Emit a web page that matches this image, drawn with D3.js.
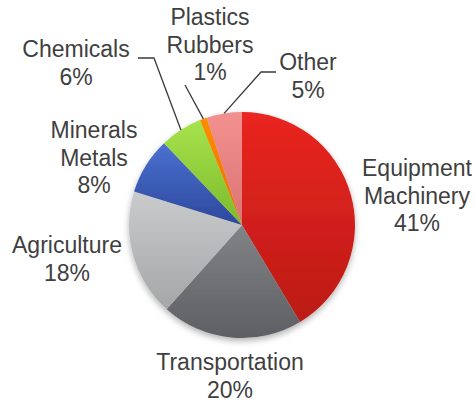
<!DOCTYPE html>
<html>
<head>
<meta charset="utf-8">
<script src="https://cdn.jsdelivr.net/npm/d3@7"></script>
<style>
  html, body { margin: 0; padding: 0; background: #fff; }
  svg { display: block; }
</style>
</head>
<body>
<svg id="chart" width="475" height="402"></svg>
<script>
// ---- data ----
const categories = [["Equipment", "Machinery"], ["Transportation"], ["Agriculture"], ["Minerals", "Metals"], ["Chemicals"], ["Plastics", "Rubbers"], ["Other"]];
const values = [41, 20, 18, 8, 6, 1, 5];
const percentLabels = ["41%", "20%", "18%", "8%", "6%", "1%", "5%"];

// ---- style/layout (not data) ----
const colorTop = ["#ea2520", "#828387", "#c9cbcd", "#4b71d1", "#a6e34c", "#ff8c05", "#f39090"];
const colorBottom = ["#bb1a16", "#5e5f63", "#a4a6a8", "#2c489c", "#7dba2c", "#ee6e00", "#db7474"];
// label anchor (center x, first baseline y)
const labelAnchor = [[417, 176], [230, 370], [67, 253], [94, 138], [76, 57], [210, 25], [308, 70]];
// leader line start points (for the small slices)
const leaderStart = [null, null, null, null, [[138, 58], [154, 58]], [[185, 85]], [[276, 72], [261, 72]]];

const svg = d3.select("#chart");
const cx = 242, cy = 225, r = 113;
const lineH = 27.5;

const defs = svg.append("defs");
values.forEach((v, i) => {
  const g = defs.append("linearGradient").attr("id", "grad" + i)
    .attr("x1", 0).attr("y1", 0).attr("x2", 0).attr("y2", 1);
  g.append("stop").attr("offset", "0%").attr("stop-color", colorTop[i]);
  g.append("stop").attr("offset", "100%").attr("stop-color", colorBottom[i]);
});
const f = defs.append("filter").attr("id", "shadow")
  .attr("x", "-20%").attr("y", "-20%").attr("width", "140%").attr("height", "140%");
f.append("feDropShadow").attr("dx", 0).attr("dy", 3).attr("stdDeviation", 3)
  .attr("flood-color", "#000").attr("flood-opacity", 0.3);

const pie = d3.pie().sort(null).value(d => d);
const arcs = pie(values);
const arc = d3.arc().innerRadius(0).outerRadius(r);

const g = svg.append("g").attr("transform", `translate(${cx},${cy})`);
const slices = g.append("g").attr("filter", "url(#shadow)");
slices.selectAll("path").data(arcs).join("path")
  .attr("d", arc)
  .attr("fill", (d, i) => `url(#grad${i})`);

// leader lines
const edgeArc = d3.arc().innerRadius(r).outerRadius(r);
arcs.forEach((d, i) => {
  if (!leaderStart[i]) return;
  const mid = (d.startAngle + d.endAngle) / 2;
  const ex = cx + r * Math.sin(mid), ey = cy - r * Math.cos(mid);
  const pts = leaderStart[i].concat([[ex, ey]]);
  svg.append("path")
    .attr("d", d3.line()(pts))
    .attr("fill", "none")
    .attr("stroke", "#3a3a3a")
    .attr("stroke-width", 1.3);
});

// labels
arcs.forEach((d, i) => {
  const lines = categories[i].concat([percentLabels[i]]);
  const t = svg.append("text")
    .attr("x", labelAnchor[i][0])
    .attr("y", labelAnchor[i][1])
    .attr("text-anchor", "middle")
    .attr("font-family", "Liberation Sans, Arial, sans-serif")
    .attr("font-size", 23)
    .attr("fill", "#3f3f3f");
  lines.forEach((s, k) => {
    t.append("tspan").attr("x", labelAnchor[i][0]).attr("dy", k === 0 ? 0 : lineH).text(s);
  });
});
</script>
</body>
</html>
